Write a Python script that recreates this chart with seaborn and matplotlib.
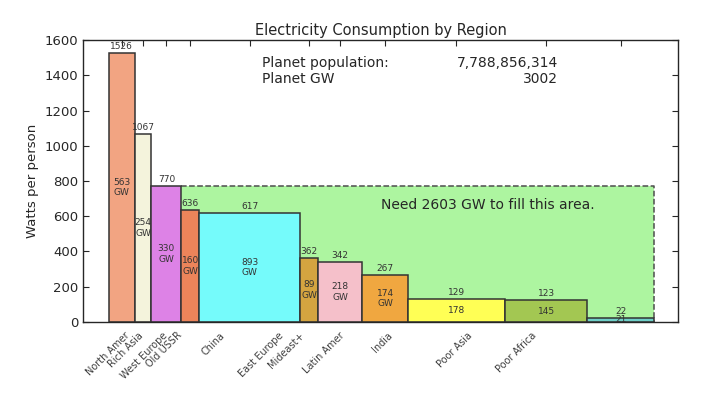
import numpy as np
import matplotlib
matplotlib.use("Agg")
import matplotlib.pyplot as plt
import seaborn as sns

# Regions, ordered by electricity use per person
regions = ['North Amer', 'Rich Asia', 'West Europe', 'Old USSR', 'China',
           'East Europe', 'Mideast+', 'Latin Amer', 'India', 'Poor Asia', 'Poor Africa']
watts = [1526, 1067, 770, 636, 617, 362, 342, 267, 129, 123, 22]
gw = [563, 254, 330, 160, 893, 89, 218, 174, 178, 145, 21]
# population in millions (bar widths)
pop = [369, 238, 429, 252, 1447, 246, 637, 652, 1380, 1179, 955]
colors = ['#f2a482', '#f4f3dc', '#dd82e6', '#ec845a', '#75fbfb', '#d4a440',
          '#f5c0ca', '#f0a740', '#ffff55', '#a3c752', '#6ecfc8']

planet_pop = '7,788,856,314'
planet_gw = 3002
need_gw = 2603
fill_level_region = 'West Europe'


def main():
    sns.set_style("ticks")
    plt.rcParams['font.family'] = ['DejaVu Sans']
    plt.rcParams['xtick.direction'] = 'in'
    plt.rcParams['ytick.direction'] = 'in'
    plt.rcParams['xtick.top'] = True
    plt.rcParams['ytick.right'] = True

    fig = plt.figure(figsize=(7.16, 3.94), dpi=100)
    ax = fig.add_axes([0.116, 0.183, 0.831, 0.715])

    widths = np.array(pop, dtype=float)
    lefts = np.concatenate([[0], np.cumsum(widths)[:-1]])
    centers = lefts + widths / 2
    right_end = lefts[-1] + widths[-1]

    # green "fill this area" region behind the bars
    k = regions.index(fill_level_region)
    level = watts[k]
    x0 = lefts[k] + widths[k]
    ax.fill_between([x0, right_end], 0, level, color='#adf5a0', zorder=1, lw=0)
    ax.plot([x0, right_end, right_end], [level, level, 0], ls='--', color='0.3',
            lw=1.1, zorder=1.5)

    ax.bar(lefts, watts, width=widths, align='edge', color=colors,
           edgecolor='0.2', linewidth=1.1, zorder=2)

    for c, w, g in zip(centers, watts, gw):
        ax.annotate(str(w), (c, w), xytext=(0, 1.5), textcoords='offset points',
                    ha='center', va='bottom', fontsize=6.5, color='0.2', zorder=3)
        lab = f"{g}\nGW" if w > 200 else str(g)
        ax.text(c, w / 2, lab, ha='center', va='center', fontsize=6.5,
                color='0.2', zorder=3, linespacing=1.25)

    ax.set_xlim(-367, right_end + 338)
    ax.set_ylim(0, 1600)
    ax.set_yticks(range(0, 1601, 200))
    ax.set_xticks(centers)
    ax.set_xticklabels([])
    ax.tick_params(axis='y', labelsize=9.5, length=4)
    ax.tick_params(axis='x', length=4)

    # region names under the axis (spread slightly narrower than the ticks)
    for c, name in zip(centers, regions):
        ax.text(0.818 * c - 161, -0.03, name, transform=ax.get_xaxis_transform(),
                rotation=45, ha='center', va='top', fontsize=7, color='0.25')

    ax.set_ylabel('Watts per person', fontsize=9.5)
    ax.set_title('Electricity Consumption by Region', fontsize=10.5, pad=4)

    ax.text(0.300, 0.918, 'Planet population:', transform=ax.transAxes,
            ha='left', va='center', fontsize=10)
    ax.text(0.798, 0.918, planet_pop, transform=ax.transAxes,
            ha='right', va='center', fontsize=10)
    ax.text(0.300, 0.862, 'Planet GW', transform=ax.transAxes,
            ha='left', va='center', fontsize=10)
    ax.text(0.798, 0.862, str(planet_gw), transform=ax.transAxes,
            ha='right', va='center', fontsize=10)
    ax.text(0.501, 0.415, f'Need {need_gw} GW to fill this area.',
            transform=ax.transAxes, ha='left', va='center', fontsize=10, zorder=3)

    for sp in ax.spines.values():
        sp.set_color('0.15')
        sp.set_linewidth(1)

    fig.savefig('out.png', dpi=100)
    plt.close(fig)


if __name__ == "__main__":
    main()
